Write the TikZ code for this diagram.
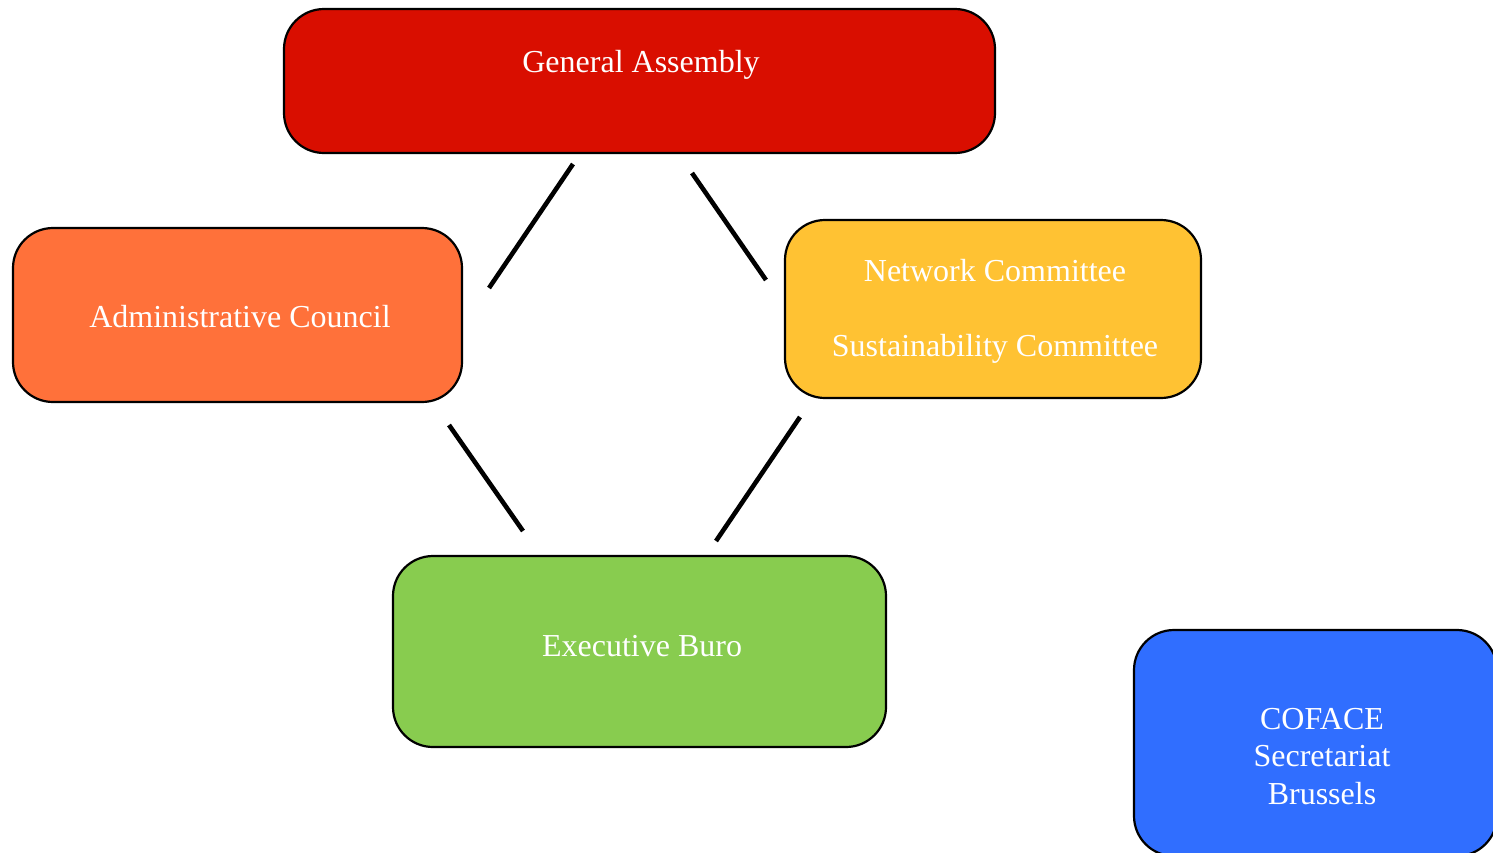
\documentclass[tikz,border=0pt]{standalone}
\usepackage{fontspec}
\setmainfont{Liberation Serif}
\definecolor{gared}{HTML}{D90E00}
\definecolor{acorange}{HTML}{FF713A}
\definecolor{ncyellow}{HTML}{FFC233}
\definecolor{ebgreen}{HTML}{88CC4F}
\definecolor{coblue}{HTML}{306EFF}
\begin{document}
\begin{tikzpicture}[x=0.5pt,y=-0.5pt,
  orgbox/.style={draw=black,line width=1.1pt,rounded corners=20pt},
  lbl/.style={anchor=base,text=white,font=\fontsize{16pt}{18.5pt}\selectfont,inner sep=0pt},
  link/.style={line width=2.3pt,black}]
\useasboundingbox (0,0) rectangle (1493,852);
\begin{scope}
\clip (0,0) rectangle (1493,852);
\path[orgbox,fill=gared] (284,9) rectangle (995,153);
\path[orgbox,fill=acorange] (13,228) rectangle (462,402);
\path[orgbox,fill=ncyellow] (785,220) rectangle (1201,398);
\path[orgbox,fill=ebgreen] (393,556) rectangle (886,747);
\path[orgbox,fill=coblue] (1134,630) rectangle (1497,856);
\end{scope}
\node[lbl] (ga) at (641,72) {General Assembly};
\node[lbl] (ac) at (240,327) {Administrative Council};
\node[lbl] (nc) at (995,281) {Network Committee};
\node[lbl] (sc) at (995,356) {Sustainability Committee};
\node[lbl] (eb) at (642,656) {Executive Buro};
\node[lbl] (co1) at (1322,729) {COFACE};
\node[lbl] (co2) at (1322,766) {Secretariat};
\node[lbl] (co3) at (1322,804) {Brussels};
\coordinate (l1a) at (573,164); \coordinate (l1b) at (489,288);
\coordinate (l2a) at (692,173); \coordinate (l2b) at (766,280);
\coordinate (l3a) at (449,425); \coordinate (l3b) at (523,531);
\coordinate (l4a) at (800,417); \coordinate (l4b) at (716,541);
\draw[link] (l1a) -- (l1b);
\draw[link] (l2a) -- (l2b);
\draw[link] (l3a) -- (l3b);
\draw[link] (l4a) -- (l4b);
\end{tikzpicture}
\end{document}
